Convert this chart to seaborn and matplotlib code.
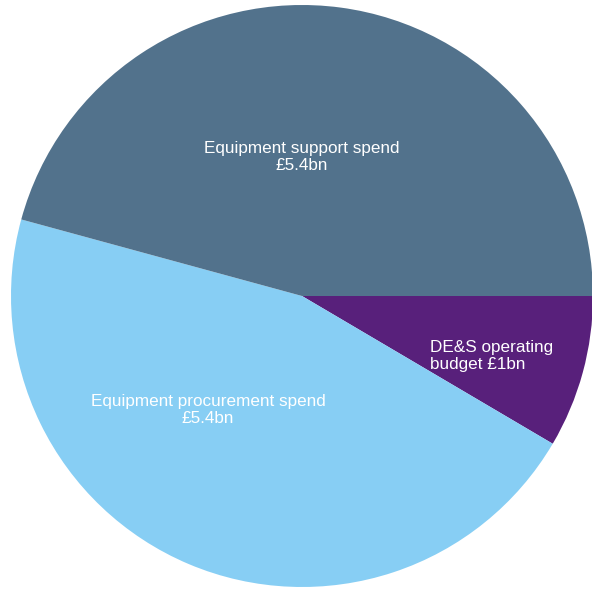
import matplotlib
matplotlib.use("Agg")
import matplotlib.pyplot as plt
import seaborn as sns

# Spend breakdown (£bn)
categories = ["DE&S operating\nbudget", "Equipment procurement spend", "Equipment support spend"]
values = [1.0, 5.4, 5.4]
colors = sns.color_palette(["#58207B", "#87CEF4", "#52728C"])

sns.set_theme(style="white")
plt.rcParams["font.family"] = ["Liberation Sans", "DejaVu Sans"]

fig = plt.figure(figsize=(5.92, 5.89), dpi=100)
ax = fig.add_axes([0, 0, 1, 1])

ax.pie(values, colors=colors, startangle=0, counterclock=False,
       radius=1.0, wedgeprops=dict(linewidth=0, antialiased=True))

ax.set_xlim(-302 / 291, 290 / 291)
ax.set_ylim(-293 / 291, 296 / 291)
ax.set_aspect("equal")
ax.axis("off")

fs = 12.3
# label text built from the same values as the wedges
lab = [f"£{v:g}bn" for v in values]

ax.text(128 / 291, -60 / 291, f"{categories[0]} {lab[0]}", ha="left", va="center",
        color="white", fontsize=fs, linespacing=1.2, multialignment="left")
ax.text(-94 / 291, -114 / 291, f"{categories[1]}\n{lab[1]}", ha="center", va="center",
        color="white", fontsize=fs, linespacing=1.2, multialignment="center")
ax.text(0 / 291, 139 / 291, f"{categories[2]}\n{lab[2]}", ha="center", va="center",
        color="white", fontsize=fs, linespacing=1.2, multialignment="center")

fig.savefig("out.png", dpi=100, facecolor="white")
